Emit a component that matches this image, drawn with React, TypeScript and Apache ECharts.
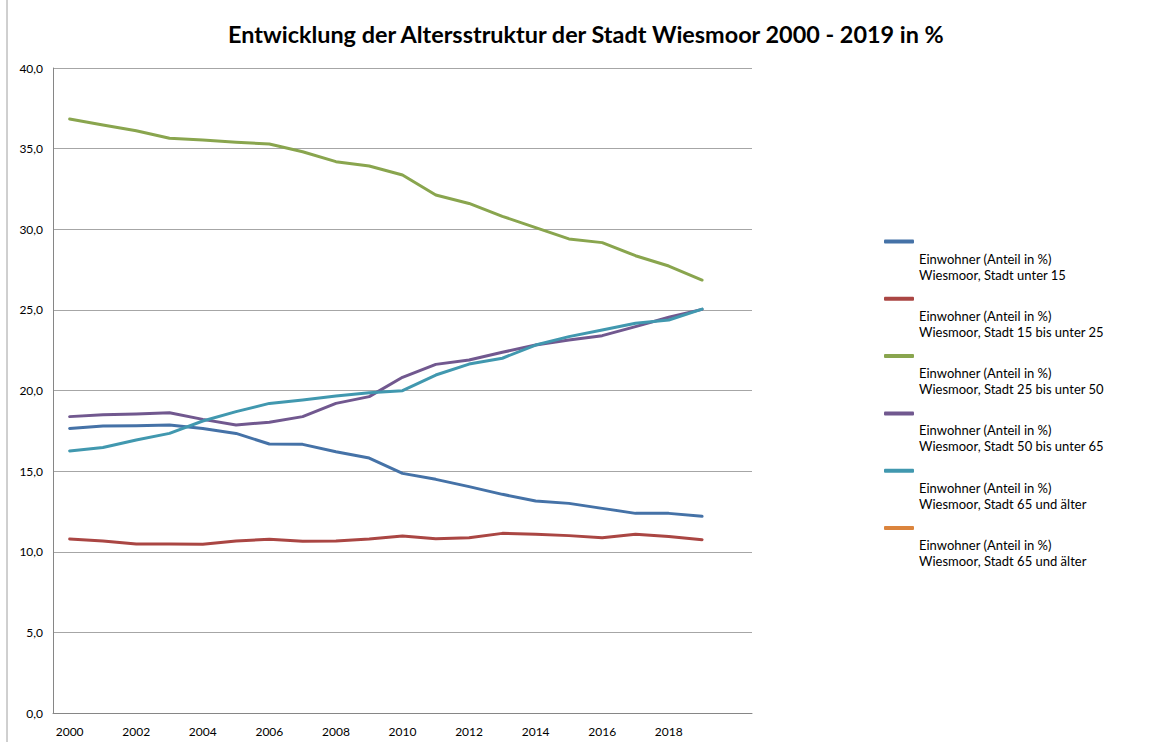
import React, { useEffect, useRef } from "react";
import * as echarts from "echarts";

const categories = ["2000","2001","2002","2003","2004","2005","2006","2007","2008","2009","2010","2011","2012","2013","2014","2015","2016","2017","2018","2019",""];
const under15 = [17.65,17.8,17.82,17.86,17.65,17.34,16.68,16.66,16.2,15.81,14.86,14.49,14.04,13.56,13.15,13.0,12.69,12.38,12.38,12.2];
const from15to25 = [10.79,10.67,10.48,10.48,10.46,10.67,10.77,10.65,10.67,10.79,10.98,10.81,10.87,11.14,11.08,11.0,10.87,11.08,10.94,10.75];
const from25to50 = [36.84,36.46,36.11,35.64,35.53,35.39,35.29,34.81,34.19,33.92,33.36,32.12,31.6,30.8,30.1,29.4,29.17,28.36,27.72,26.85];
const from50to65 = [18.38,18.5,18.54,18.62,18.21,17.86,18.03,18.38,19.2,19.62,20.82,21.62,21.89,22.37,22.82,23.13,23.4,23.96,24.54,25.03];
const from65 = [16.25,16.46,16.93,17.34,18.11,18.69,19.2,19.41,19.66,19.86,19.99,20.96,21.64,22.0,22.82,23.34,23.75,24.17,24.37,25.05];
const from65b: number[] = [];

const seriesIds = ["s1","s2","s3","s4","s5","s6"];
const labelLine1 = "Einwohner (Anteil in %)";
const labelLine2 = [
  "Wiesmoor, Stadt unter 15",
  "Wiesmoor, Stadt 15 bis unter 25",
  "Wiesmoor, Stadt 25 bis unter 50",
  "Wiesmoor, Stadt 50 bis unter 65",
  "Wiesmoor, Stadt 65 und älter",
  "Wiesmoor, Stadt 65 und älter",
];
const seriesData = [under15, from15to25, from25to50, from50to65, from65, from65b];
const colors = ["#4572A7","#AA4643","#89A54E","#71588F","#4198AF","#DB843D"];
const yTicks = [0, 5, 10, 15, 20, 25, 30, 35, 40];

const FONT = "Lato, 'Liberation Sans', sans-serif";

export default function App() {
  const ref = useRef<HTMLDivElement>(null);
  useEffect(() => {
    if (!ref.current) return;
    const chart = echarts.init(ref.current, undefined, { renderer: "svg" });
    const labelMap: Record<string, string> = {};
    seriesIds.forEach((id, i) => (labelMap[id] = "{s| }\n{t|" + labelLine1 + "}\n{t|" + labelLine2[i] + "}"));
    chart.setOption({
      animation: false,
      backgroundColor: "#ffffff",
      color: colors,
      title: {
        text: "Entwicklung der Altersstruktur der Stadt Wiesmoor 2000 - 2019 in %",
        left: 223,
        top: 17,
        textStyle: { fontFamily: FONT, fontSize: 23.4, fontWeight: "bold", color: "#000" },
      },
      grid: { left: 53, right: 403, top: 68, bottom: 29, containLabel: false },
      xAxis: {
        type: "category",
        data: categories,
        boundaryGap: true,
        axisLine: { show: true, lineStyle: { color: "#868686", width: 1 } },
        axisTick: { show: false },
        axisLabel: { interval: 1, color: "#000", fontFamily: FONT, fontSize: 12, margin: 12 },
        splitLine: { show: false },
      },
      yAxis: {
        type: "value",
        min: yTicks[0],
        max: yTicks[yTicks.length - 1],
        interval: 5,
        axisLine: { show: true, lineStyle: { color: "#868686", width: 1 } },
        axisTick: { show: false },
        axisLabel: {
          color: "#000",
          fontFamily: FONT,
          fontSize: 12,
          margin: 10,
          formatter: (v: number) => v.toFixed(1).replace(".", ","),
        },
        splitLine: { show: true, lineStyle: { color: "#a6a6a6", width: 1 } },
      },
      legend: {
        orient: "vertical",
        left: 884,
        top: 219,
        padding: 0,
        itemWidth: 30,
        itemHeight: 4,
        itemGap: -4.7,
        icon: "roundRect",
        data: seriesIds,
        formatter: (name: string) => labelMap[name],
        textStyle: {
          fontFamily: FONT,
          fontSize: 13,
          color: "#000",
          rich: {
            s: { fontSize: 13, lineHeight: 50, fontFamily: FONT },
            t: { fontSize: 13, lineHeight: 16, fontFamily: FONT, color: "#000" },
          },
        },
      },
      series: seriesIds.map((id, i) => ({
        name: id,
        type: "line",
        data: seriesData[i],
        showSymbol: false,
        symbol: "none",
        lineStyle: { width: 3, color: colors[i], cap: "round", join: "round" },
        itemStyle: { color: colors[i] },
      })),
      graphic: [
        {
          type: "line",
          shape: { x1: 7, y1: 0, x2: 7, y2: 742 },
          style: { stroke: "#a0a0a0", lineWidth: 1 },
        },
      ],
    });
    return () => chart.dispose();
  }, []);
  return (
    <div
      ref={ref}
      style={{ position: "fixed", left: 0, top: 0, width: 1155, height: 742, background: "#fff" }}
    />
  );
}
